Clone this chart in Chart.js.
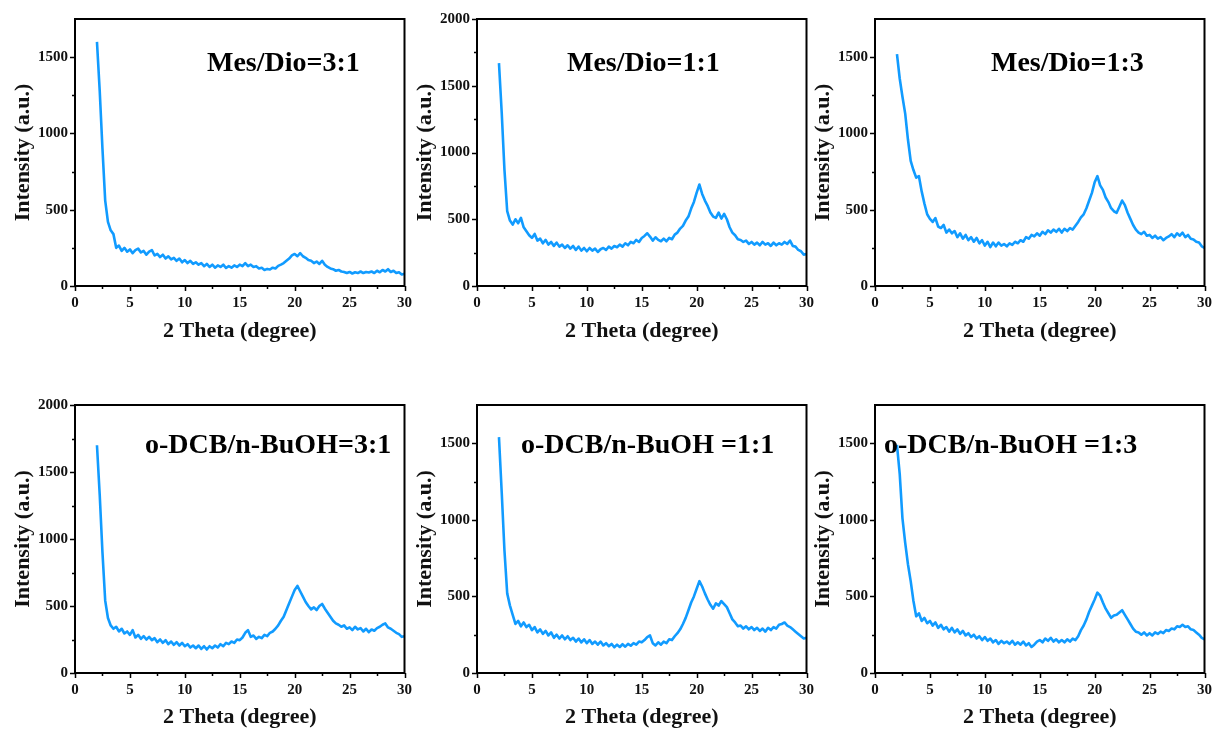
<!DOCTYPE html>
<html>
<head>
<meta charset="utf-8">
<title>XRD patterns</title>
<script src="https://cdn.jsdelivr.net/npm/chart.js@4.4.1/dist/chart.umd.min.js"></script>
<style>
  html, body { margin: 0; padding: 0; background: #fff; }
  body { width: 1213px; height: 729px; position: relative; overflow: hidden; }
  canvas { position: absolute; }
</style>
</head>
<body>
<canvas id="mes31" width="420" height="348" style="left:0px;top:0px"></canvas>
<canvas id="mes11" width="420" height="348" style="left:402px;top:0px"></canvas>
<canvas id="mes13" width="420" height="348" style="left:800px;top:0px"></canvas>
<canvas id="dcb31" width="420" height="348" style="left:0px;top:386px"></canvas>
<canvas id="dcb11" width="420" height="348" style="left:402px;top:386px"></canvas>
<canvas id="dcb13" width="420" height="348" style="left:800px;top:386px"></canvas>

<script>
// 2 theta grid (degree), shared by all six patterns
const twoTheta = [
  2, 2.25, 2.5, 2.75, 3, 3.25, 3.5, 3.75, 4, 4.25, 4.5, 4.75,
  5, 5.25, 5.5, 5.75, 6, 6.25, 6.5, 6.75, 7, 7.25, 7.5, 7.75,
  8, 8.25, 8.5, 8.75, 9, 9.25, 9.5, 9.75, 10, 10.25, 10.5, 10.75,
  11, 11.25, 11.5, 11.75, 12, 12.25, 12.5, 12.75, 13, 13.25, 13.5, 13.75,
  14, 14.25, 14.5, 14.75, 15, 15.25, 15.5, 15.75, 16, 16.25, 16.5, 16.75,
  17, 17.25, 17.5, 17.75, 18, 18.25, 18.5, 18.75, 19, 19.25, 19.5, 19.75,
  20, 20.25, 20.5, 20.75, 21, 21.25, 21.5, 21.75, 22, 22.25, 22.5, 22.75,
  23, 23.25, 23.5, 23.75, 24, 24.25, 24.5, 24.75, 25, 25.25, 25.5, 25.75,
  26, 26.25, 26.5, 26.75, 27, 27.25, 27.5, 27.75, 28, 28.25, 28.5, 28.75,
  29, 29.25, 29.5, 29.75, 30
];

// Intensity (a.u.)
const mesDio31 = [
  1600, 1280, 900, 560, 420, 365, 340, 250, 265, 230, 250, 225,
  240, 215, 235, 245, 220, 230, 205, 225, 235, 200, 210, 190,
  205, 180, 195, 175, 185, 165, 180, 155, 170, 150, 165, 145,
  155, 140, 150, 130, 145, 125, 140, 120, 135, 125, 140, 118,
  130, 120, 135, 125, 140, 130, 150, 130, 140, 125, 130, 115,
  120, 105, 112, 108, 120, 115, 132, 140, 150, 165, 180, 200,
  210, 195, 215, 195, 185, 170, 165, 150, 160, 145, 165, 140,
  125, 115, 110, 100, 105, 95, 92, 85, 92, 82, 90, 85,
  95, 85, 92, 88, 95, 85, 100, 90, 105, 95, 110, 92,
  100, 85, 90, 75, 80
];
const mesDio11 = [
  1670, 1300, 870, 560, 490, 460, 500, 470, 510, 440, 410, 380,
  360, 390, 340, 355, 320, 345, 310, 330, 300, 325, 295, 310,
  285, 305, 280, 300, 270, 295, 265, 285, 260, 285, 265, 280,
  255, 275, 285, 270, 295, 280, 300, 290, 310, 295, 320, 305,
  330, 320, 345, 330, 360, 375, 395, 370, 340, 365, 345, 335,
  355, 335, 360, 350, 385, 400, 430, 450, 490, 520, 580, 630,
  700, 760, 690, 640, 600, 550, 520, 510, 550, 505, 540, 500,
  440, 400, 380, 350, 345, 330, 340, 315, 330, 310, 325, 305,
  330, 310, 320, 300, 325, 305, 320, 310, 330, 315, 340, 300,
  295, 270, 260, 235, 240
];
const mesDio13 = [
  1520, 1360, 1240, 1130, 960, 820, 760, 710, 720, 620, 540, 470,
  440, 420, 445, 390, 380, 400, 350, 370, 345, 360, 320, 345,
  310, 335, 300, 320, 290, 315, 280, 300, 265, 290, 255, 285,
  260, 285, 265, 275, 260, 280, 270, 290, 280, 300, 290, 320,
  310, 335, 325, 345, 330, 355, 340, 365, 350, 370, 355, 375,
  350, 375, 360, 380, 370, 395, 420, 450, 470, 510, 560, 610,
  680, 720, 660, 630, 580, 550, 510, 490, 480, 520, 560, 530,
  480, 440, 400, 370, 350, 340, 355, 330, 335, 315, 330, 310,
  320, 300, 315, 325, 340, 320, 345, 330, 350, 320, 335, 310,
  305, 290, 285, 260, 250
];
const dcbBuoh31 = [
  1700, 1330, 900, 540, 410, 355, 330, 345, 310, 330, 295, 310,
  285, 320, 265, 285, 255, 275, 250, 270, 245, 260, 230, 250,
  225, 245, 215, 235, 210, 230, 205, 225, 200, 215, 190, 205,
  185, 205, 180, 200, 175, 200, 185, 205, 190, 215, 200, 225,
  215, 235, 225, 250, 245, 265, 300, 320, 270, 280, 255, 270,
  260, 285, 275, 300, 310, 330, 355, 390, 420, 470, 520, 570,
  620, 650, 610, 570, 530, 500, 475, 490, 470, 500, 515, 480,
  450, 420, 390, 370, 360, 345, 355, 330, 340, 320, 345, 325,
  335, 310, 330, 305, 325, 315, 335, 345, 360, 370, 340, 330,
  315, 300, 290, 270, 275
];
const dcbBuoh11 = [
  1540, 1180, 800, 520, 440, 380, 320, 340, 305, 330, 300, 315,
  280, 300, 265, 285, 255, 275, 245, 265, 230, 250, 225, 245,
  220, 240, 215, 230, 205, 225, 200, 220, 195, 215, 190, 205,
  185, 205, 180, 195, 175, 190, 168, 185, 170, 188, 172, 190,
  178, 195, 185, 205, 200, 215, 235, 245, 195, 180, 200, 185,
  205, 195, 220, 215, 240, 260, 285, 320, 360, 410, 460, 500,
  550, 600, 565, 520, 480, 445, 420, 455, 440, 470, 450, 430,
  390, 350, 330, 305, 310, 290, 305, 285, 300, 280, 295, 275,
  290, 270, 295, 280, 300, 290, 315, 320, 330, 310, 300, 285,
  270, 255, 240, 225, 230
];
const dcbBuoh13 = [
  1490, 1300, 1010, 850, 710, 600, 470, 370, 390, 340, 360, 325,
  340, 310, 330, 295, 315, 285, 300, 270, 295, 265, 285, 255,
  275, 245, 260, 235, 250, 225, 240, 215, 235, 210, 225, 200,
  215, 190, 210, 195, 205, 190, 210, 185, 200, 185, 205, 180,
  195, 170, 185, 205, 215, 200, 225, 210, 230, 205, 220, 200,
  215, 200, 220, 205, 225, 215, 240, 280, 310, 350, 400, 440,
  480, 525, 505, 460, 420, 390, 360, 375, 380, 395, 410, 380,
  350, 320, 290, 270, 265, 250, 265, 245, 260, 245, 265, 255,
  270, 260, 280, 275, 290, 285, 305, 300, 315, 300, 305, 285,
  280, 265, 250, 230, 220
];

// Axis tick labels
const xTicks = [0, 5, 10, 15, 20, 25, 30];
const yTicksLow = [0, 500, 1000, 1500];
const yTicksHigh = [0, 500, 1000, 1500, 2000];

const serif = '"Liberation Serif", "Times New Roman", serif';
const lineBlue = '#119bff';

// frame, outward major/minor ticks and the panel caption
const framePlugin = {
  id: 'frame',
  afterDatasetsDraw(chart, args, opts) {
    const { ctx, chartArea: a, scales: { x, y } } = chart;
    ctx.save();
    ctx.strokeStyle = '#000';
    ctx.lineWidth = 2;
    ctx.strokeRect(a.left, a.top, a.width, a.height);

    ctx.lineWidth = 1.5;
    ctx.beginPath();
    const xv = x.ticks.map(t => t.value);
    xv.forEach((v, i) => {
      const px = Math.round(x.getPixelForValue(v)) + 0.5;
      ctx.moveTo(px, a.bottom); ctx.lineTo(px, a.bottom + 5);
      if (i < xv.length - 1) {
        const mx = Math.round(x.getPixelForValue((v + xv[i + 1]) / 2)) + 0.5;
        ctx.moveTo(mx, a.bottom); ctx.lineTo(mx, a.bottom + 3);
      }
    });
    const yv = y.ticks.map(t => t.value);
    yv.forEach((v, i) => {
      const py = Math.round(y.getPixelForValue(v)) + 0.5;
      ctx.moveTo(a.left, py); ctx.lineTo(a.left - 5, py);
      const next = i < yv.length - 1 ? yv[i + 1] : v + (yv[1] - yv[0]);
      const mv = (v + next) / 2;
      if (mv < y.max) {
        const my = Math.round(y.getPixelForValue(mv)) + 0.5;
        ctx.moveTo(a.left, my); ctx.lineTo(a.left - 3, my);
      }
    });
    ctx.stroke();

    ctx.fillStyle = '#000';
    ctx.font = 'bold 28px ' + serif;
    ctx.textBaseline = 'alphabetic';
    ctx.fillText(opts.text, a.left + opts.dx, a.top + opts.dy);
    ctx.restore();
  }
};

function drawPanel(id, values, yMax, yTicks, caption, dx, dy, xAxisHeight) {
  const points = twoTheta.map((t, i) => ({ x: t, y: values[i] }));
  new Chart(document.getElementById(id), {
    type: 'line',
    data: {
      datasets: [{
        data: points,
        borderColor: lineBlue,
        borderWidth: 2.6,
        borderJoinStyle: 'round',
        pointRadius: 0,
        tension: 0,
        fill: false
      }]
    },
    options: {
      responsive: false,
      animation: false,
      layout: { padding: { top: 19, right: 13, left: 0, bottom: 0 } },
      plugins: {
        legend: { display: false },
        tooltip: { enabled: false },
        frame: { text: caption, dx: dx, dy: dy }
      },
      scales: {
        x: {
          type: 'linear',
          min: 0,
          max: 30,
          grid: { display: false, drawTicks: false },
          border: { display: false },
          afterBuildTicks: s => { s.ticks = xTicks.map(v => ({ value: v })); },
          afterFit: s => { s.height = xAxisHeight; },
          ticks: {
            padding: 8,
            maxRotation: 0,
            color: '#111',
            callback: v => String(v),
            font: { family: serif, weight: 'bold', size: 15 }
          },
          title: {
            display: true,
            text: '2 Theta (degree)',
            color: '#111',
            padding: { top: 0, bottom: 3 },
            font: { family: serif, weight: 'bold', size: 22 }
          }
        },
        y: {
          min: 0,
          max: yMax,
          grid: { display: false, drawTicks: false },
          border: { display: false },
          afterBuildTicks: s => { s.ticks = yTicks.map(v => ({ value: v })); },
          afterFit: s => { s.width = 75; },
          ticks: {
            padding: 7,
            color: '#111',
            callback: v => String(v),
            font: { family: serif, weight: 'bold', size: 15 }
          },
          title: {
            display: true,
            text: 'Intensity (a.u.)',
            color: '#111',
            padding: { top: 10, bottom: 0 },
            font: { family: serif, weight: 'bold', size: 22 }
          }
        }
      }
    },
    plugins: [framePlugin]
  });
}

drawPanel('mes31', mesDio31, 1750, yTicksLow, 'Mes/Dio=3:1', 132, 52, 62);
drawPanel('mes11', mesDio11, 2000, yTicksHigh, 'Mes/Dio=1:1', 90, 52, 62);
drawPanel('mes13', mesDio13, 1750, yTicksLow, 'Mes/Dio=1:3', 116, 52, 62);
drawPanel('dcb31', dcbBuoh31, 2000, yTicksHigh, 'o-DCB/n-BuOH=3:1', 70, 48, 61);
drawPanel('dcb11', dcbBuoh11, 1750, yTicksLow, 'o-DCB/n-BuOH =1:1', 44, 48, 61);
drawPanel('dcb13', dcbBuoh13, 1750, yTicksLow, 'o-DCB/n-BuOH =1:3', 9, 48, 61);
</script>
</body>
</html>
